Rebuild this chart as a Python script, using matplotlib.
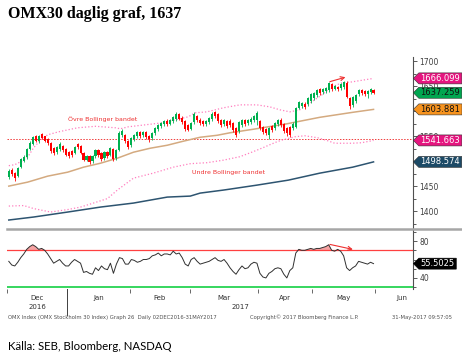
import numpy as np
import matplotlib
matplotlib.use("Agg")
import matplotlib.pyplot as plt
from matplotlib.path import Path
from matplotlib.lines import Line2D
import matplotlib.transforms as mtransforms

# trading days per month, Dec 2016 - May 2017
months = ["Dec", "Jan", "Feb", "Mar", "Apr", "May", "Jun"]
month_days = [20, 21, 20, 23, 18, 21]

# daily OMX30 candles
opens = [1468, 1482, 1476, 1470, 1488, 1500, 1508, 1524, 1534, 1549,
         1540, 1553, 1549, 1544, 1536, 1526, 1518, 1524, 1530, 1524,
         1518, 1520, 1516, 1534, 1530, 1516, 1503, 1510, 1500, 1510,
         1522, 1516, 1506, 1518, 1512, 1524, 1506, 1522, 1552, 1552,
         1540, 1532, 1544, 1550, 1557, 1552, 1558, 1550, 1546, 1556,
         1564, 1570, 1574, 1581, 1575, 1580, 1584, 1594, 1586, 1580,
         1572, 1565, 1578, 1590, 1583, 1580, 1574, 1578, 1584, 1598,
         1594, 1582, 1574, 1580, 1580, 1576, 1566, 1560, 1572, 1582,
         1576, 1578, 1582, 1582, 1580, 1568, 1564, 1552, 1570, 1566,
         1574, 1582, 1574, 1566, 1568, 1566, 1568, 1607, 1610, 1614,
         1614, 1620, 1626, 1632, 1644, 1638, 1640, 1642, 1654, 1645,
         1648, 1646, 1648, 1656, 1626, 1612, 1620, 1634, 1642, 1640,
         1634, 1638, 1642]
closes = [1480, 1474, 1466, 1486, 1504, 1508, 1524, 1536, 1548, 1541,
          1550, 1546, 1541, 1536, 1520, 1516, 1528, 1534, 1522, 1513,
          1510, 1512, 1528, 1528, 1517, 1503, 1510, 1498, 1510, 1522,
          1512, 1504, 1518, 1510, 1525, 1504, 1522, 1556, 1560, 1540,
          1528, 1546, 1552, 1558, 1550, 1558, 1548, 1544, 1556, 1565,
          1572, 1576, 1580, 1574, 1582, 1588, 1594, 1585, 1578, 1564,
          1563, 1576, 1594, 1582, 1576, 1574, 1580, 1586, 1595, 1590,
          1580, 1572, 1582, 1570, 1572, 1562, 1552, 1578, 1582, 1574,
          1582, 1585, 1590, 1596, 1566, 1558, 1556, 1566, 1562, 1576,
          1582, 1572, 1560, 1556, 1553, 1575, 1606, 1618, 1616, 1608,
          1626, 1634, 1636, 1642, 1636, 1644, 1646, 1656, 1644, 1650,
          1644, 1654, 1658, 1628, 1610, 1628, 1632, 1642, 1636, 1634,
          1640, 1644, 1637.26]
highs = [1484, 1486, 1478, 1489, 1507, 1512, 1527, 1540, 1551, 1553,
         1553, 1556, 1551, 1547, 1538, 1528, 1531, 1538, 1533, 1527,
         1520, 1522, 1530, 1537, 1532, 1518, 1513, 1513, 1513, 1525,
         1525, 1518, 1520, 1521, 1529, 1527, 1525, 1560, 1564, 1555,
         1542, 1549, 1555, 1561, 1560, 1561, 1560, 1552, 1558, 1568,
         1575, 1579, 1583, 1584, 1585, 1591, 1598, 1597, 1590, 1583,
         1575, 1579, 1598, 1593, 1586, 1582, 1583, 1589, 1598, 1601,
         1597, 1585, 1585, 1583, 1584, 1578, 1568, 1581, 1585, 1585,
         1585, 1588, 1593, 1600, 1583, 1571, 1567, 1569, 1573, 1579,
         1585, 1586, 1577, 1569, 1570, 1578, 1609, 1621, 1619, 1618,
         1629, 1637, 1639, 1645, 1647, 1647, 1649, 1659, 1657, 1653,
         1651, 1657, 1661, 1660, 1629, 1631, 1635, 1645, 1645, 1643,
         1643, 1646, 1645]
lows = [1464, 1470, 1460, 1468, 1486, 1498, 1505, 1522, 1532, 1538,
        1537, 1544, 1538, 1532, 1516, 1512, 1515, 1521, 1519, 1510,
        1507, 1509, 1514, 1524, 1514, 1500, 1500, 1495, 1497, 1507,
        1509, 1500, 1503, 1507, 1510, 1500, 1502, 1520, 1549, 1537,
        1524, 1529, 1541, 1547, 1547, 1549, 1545, 1538, 1543, 1553,
        1561, 1567, 1571, 1571, 1572, 1577, 1580, 1582, 1575, 1560,
        1560, 1562, 1574, 1579, 1573, 1571, 1571, 1575, 1581, 1587,
        1577, 1569, 1571, 1567, 1569, 1558, 1548, 1557, 1569, 1571,
        1573, 1575, 1579, 1572, 1563, 1555, 1553, 1545, 1559, 1563,
        1571, 1569, 1557, 1550, 1549, 1563, 1566, 1604, 1606, 1605,
        1611, 1617, 1623, 1629, 1633, 1635, 1637, 1639, 1641, 1642,
        1641, 1643, 1645, 1626, 1605, 1609, 1617, 1631, 1633, 1631,
        1626, 1635, 1634]

# Bollinger bands and moving averages (day index, value)
bb_up_x = [0, 2, 4, 6.3, 8.3, 10.7, 13, 16.7, 23, 29, 35.7, 37.3, 40, 45.7,
           51.3, 55.7, 60, 62.3, 66.3, 71.7, 77.3, 83, 87.3, 90.7, 94, 97.3,
           101.3, 104.7, 108, 111.3, 114.7, 122]
bb_up = [1491, 1493, 1499, 1508, 1527, 1543, 1553, 1559, 1567, 1570, 1567,
         1565, 1569, 1573, 1577, 1583, 1589, 1597, 1599, 1607, 1613, 1613,
         1609, 1603, 1599, 1603, 1619, 1633, 1649, 1657, 1659, 1666.1]
bb_lo_x = [0, 5, 8.3, 14, 19.7, 24, 28.3, 33, 36.3, 41.7, 48.3, 55, 60.7,
           66.3, 71.7, 77.3, 81.7, 85, 87.3, 89.7, 91.7, 95.7, 99, 103.3,
           106.7, 109, 114.7, 118, 122]
bb_lo = [1410, 1411, 1405, 1398, 1403, 1408, 1416, 1425, 1442, 1466, 1476,
         1488, 1495, 1497, 1502, 1509, 1519, 1527, 1533, 1539, 1543, 1549,
         1551, 1547, 1541, 1536, 1536, 1537, 1541.7]
ma_tan_x = [0, 6.3, 13, 19.7, 25, 30.7, 36.3, 41.7, 47.3, 53, 58.3, 64, 69.7,
            74, 81.7, 93, 104, 115, 122]
ma_tan = [1450, 1458, 1470, 1478, 1488, 1496, 1506, 1518, 1526, 1532, 1540,
          1548, 1552, 1557, 1564, 1575, 1588, 1598, 1603.9]
ma_dark_x = [0, 8.3, 19.7, 30.7, 41.7, 53, 60.7, 64, 71.7, 74, 83, 93.5,
             104, 115, 122]
ma_dark = [1382, 1388, 1398, 1408, 1416, 1428, 1430, 1436, 1442, 1444, 1452,
           1462, 1476, 1488, 1498.6]
level_line = 1545

# RSI(14), one value per day
rsi = [58, 54, 53, 57, 62, 66, 71, 74, 76, 74, 71, 72, 70, 66, 61, 56, 58,
       60, 56, 53, 53, 57, 60, 58, 56, 46, 47, 45, 44, 51, 48, 53, 50, 49,
       56, 45, 55, 62, 61, 55, 55, 60, 59, 57, 58, 60, 60, 61, 64, 65, 67,
       64, 66, 66, 65, 69, 66, 67, 62, 55, 53, 60, 62, 58, 55, 56, 57, 58,
       60, 62, 59, 58, 60, 56, 51, 47, 44, 49, 53, 50, 51, 55, 57, 56, 45,
       41, 40, 45, 47, 50, 51, 50, 44, 40, 48, 51, 67, 71, 70, 70, 71, 72,
       71, 72, 72, 73, 74, 76, 70, 69, 71, 69, 64, 51, 48, 51, 53, 58, 57,
       56, 55, 57, 55.5]

tags = [("1666.099", 1666.099, "#e5157f", "white"),
        ("1637.259", 1637.259, "#00a650", "#101010"),
        ("1603.881", 1603.881, "#f7931e", "#101010"),
        ("1541.663", 1541.663, "#e5157f", "white"),
        ("1498.574", 1498.574, "#1c4a66", "white")]
# tick labels that stay visible next to the tags
price_ticks = [1400, 1450, 1550, 1650, 1700]

W, H = 462, 358
fig = plt.figure(figsize=(W / 100, H / 100), dpi=100)
ax = fig.add_axes([7 / W, 1 - 228 / H, 406 / W, 171 / H])
ax2 = fig.add_axes([7 / W, 1 - 289 / H, 406 / W, 59 / H])

x = np.arange(len(closes))
o = np.array(opens); c = np.array(closes)
up = c >= o
col = np.where(up, "#00b050", "#ff0000")
ax.vlines(x, lows, highs, colors=col, lw=0.6, zorder=3)
ax.bar(x, np.abs(c - o) + 0.6, bottom=np.minimum(o, c), width=0.7,
       color=col, lw=0, zorder=4)

ax.plot(bb_up_x, bb_up, color="#ff7fbf", ls=":", lw=0.9, zorder=2)
ax.plot(bb_lo_x, bb_lo, color="#ff7fbf", ls=":", lw=0.9, zorder=2)
ax.plot(ma_tan_x, ma_tan, color="#d4aa80", lw=1.1, zorder=2)
ax.plot(ma_dark_x, ma_dark, color="#2d5470", lw=1.1, zorder=2)
ax.axhline(level_line, color="#f03c3c", ls=(0, (1.5, 1.5)), lw=0.7, zorder=1)

ax.text(31.5, 1585, "Övre Bollinger bandet", color="#ee3030", fontsize=4.5,
        ha="center", va="center")
ax.text(73.5, 1478, "Undre Bollinger bandet", color="#ee3030", fontsize=4.5,
        ha="center", va="center")
ax.annotate("", xy=(113.5, 1670), xytext=(106.5, 1658),
            arrowprops=dict(arrowstyle="->", color="#ee3030", lw=0.8,
                            mutation_scale=7))

bounds = np.concatenate([[0], np.cumsum(month_days)]) - 0.5
centers = list((bounds[:-1] + bounds[1:]) / 2) + [bounds[-1] + 9]

for a in (ax, ax2):
    a.set_xlim(-0.6, 135.2)
    for s in ("top", "left", "bottom"):
        a.spines[s].set_visible(False)
    a.spines["right"].set_color("#505050")
    a.spines["right"].set_linewidth(0.8)
    a.yaxis.tick_right()
    a.tick_params(axis="y", which="both", direction="out", colors="#404040",
                  labelsize=5.5, pad=1.5, width=0.6)
    a.tick_params(axis="y", which="major", length=3)
    a.tick_params(axis="y", which="minor", length=2)
    a.set_facecolor("white")

ax.set_ylim(1366, 1709)
ax.set_yticks(price_ticks)
ax.set_yticks(np.arange(1375, 1710, 25), minor=True)
ax.set_xticks([])

def tag_box(x0, y0, width, height, mutation_size):
    px, py = 0.2 * mutation_size, 0.12 * mutation_size
    x0, x1 = x0 - px, x0 + width + px
    y0, y1 = y0 - py, y0 + height + py
    tip = (y1 - y0) / 2
    verts = [(x0 - tip, (y0 + y1) / 2), (x0, y0), (x1, y0), (x1, y1),
             (x0, y1), (x0 - tip, (y0 + y1) / 2)]
    codes = [Path.MOVETO] + [Path.LINETO] * 4 + [Path.CLOSEPOLY]
    return Path(verts, codes)

trans = mtransforms.blended_transform_factory(ax.transAxes, ax.transData)
for txt, v, fc, tc in tags:
    ax.annotate(txt, xy=(1, v), xycoords=trans, xytext=(7.5, 0),
                textcoords="offset pixels", ha="left", va="center",
                fontsize=6, color=tc, zorder=10, annotation_clip=False,
                bbox=dict(boxstyle=tag_box, fc=fc, ec="#303030", lw=0.4))

# RSI panel
ax2.plot(x, rsi, color="#303030", lw=0.7, zorder=3)
ax2.fill_between(x, rsi, 70, where=np.array(rsi) > 70, interpolate=True,
                 color="#f5a3a3", lw=0, zorder=2)
ax2.axhline(70, color="#ff4040", lw=0.9, zorder=2)
ax2.axhline(30, color="#00cc33", lw=1.1, zorder=2)
ax2.annotate("", xy=(116, 70.3), xytext=(106.5, 77),
             arrowprops=dict(arrowstyle="->", color="#ee3030", lw=0.8,
                             mutation_scale=7))
ax2.set_ylim(28, 92)
ax2.set_yticks([40, 80])
ax2.set_yticks([30, 50, 60, 70, 90], minor=True)
trans2 = mtransforms.blended_transform_factory(ax2.transAxes, ax2.transData)
ax2.annotate("55.5025", xy=(1, rsi[-1]), xycoords=trans2, xytext=(7.5, 0),
             textcoords="offset pixels", ha="left", va="center", fontsize=6,
             color="white", zorder=10, annotation_clip=False,
             bbox=dict(boxstyle=tag_box, fc="black", ec="black", lw=0.4))

ax2.set_xticks(bounds)
ax2.set_xticklabels([])
ax2.set_xticks(centers, minor=True)
ax2.set_xticklabels(months, minor=True)
ax2.tick_params(axis="x", which="major", length=3, width=0.6, color="#505050")
ax2.tick_params(axis="x", which="minor", length=0, labelsize=5, pad=4.5,
                labelcolor="#303030")

tx = mtransforms.blended_transform_factory(ax2.transData, ax2.transAxes)
ax2.plot([bounds[1], bounds[1]], [0, -0.44], transform=tx, color="#404040",
         lw=0.7, clip_on=False)
ax2.text(centers[0], -0.31, "2016", transform=tx, ha="center", va="center",
         fontsize=5, color="#303030")
ax2.text(77.5, -0.31, "2017", transform=tx, ha="center", va="center",
         fontsize=5, color="#303030")

fig.add_artist(Line2D([7 / W, 1], [1 - 228.5 / H] * 2, color="#a6a6a6",
                      lw=1.8))

fig.text(8 / W, 1 - 14 / H, "OMX30 daglig graf, 1637", fontsize=11.5,
         fontweight="bold", family="Liberation Serif", va="center")
fig.text(8 / W, 1 - 317 / H,
         "OMX Index (OMX Stockholm 30 Index) Graph 26  Daily 02DEC2016-31MAY2017",
         fontsize=3.8, color="#505050", va="center")
fig.text(250 / W, 1 - 317 / H, "Copyright© 2017 Bloomberg Finance L.P.",
         fontsize=3.8, color="#505050", va="center")
fig.text(452 / W, 1 - 317 / H, "31-May-2017 09:57:05", fontsize=3.8,
         color="#505050", va="center", ha="right")
fig.text(8 / W, 1 - 347 / H, "Källa: SEB, Bloomberg, NASDAQ", fontsize=8.2,
         family="Lato", va="center")

fig.savefig("out.png", dpi=100)
